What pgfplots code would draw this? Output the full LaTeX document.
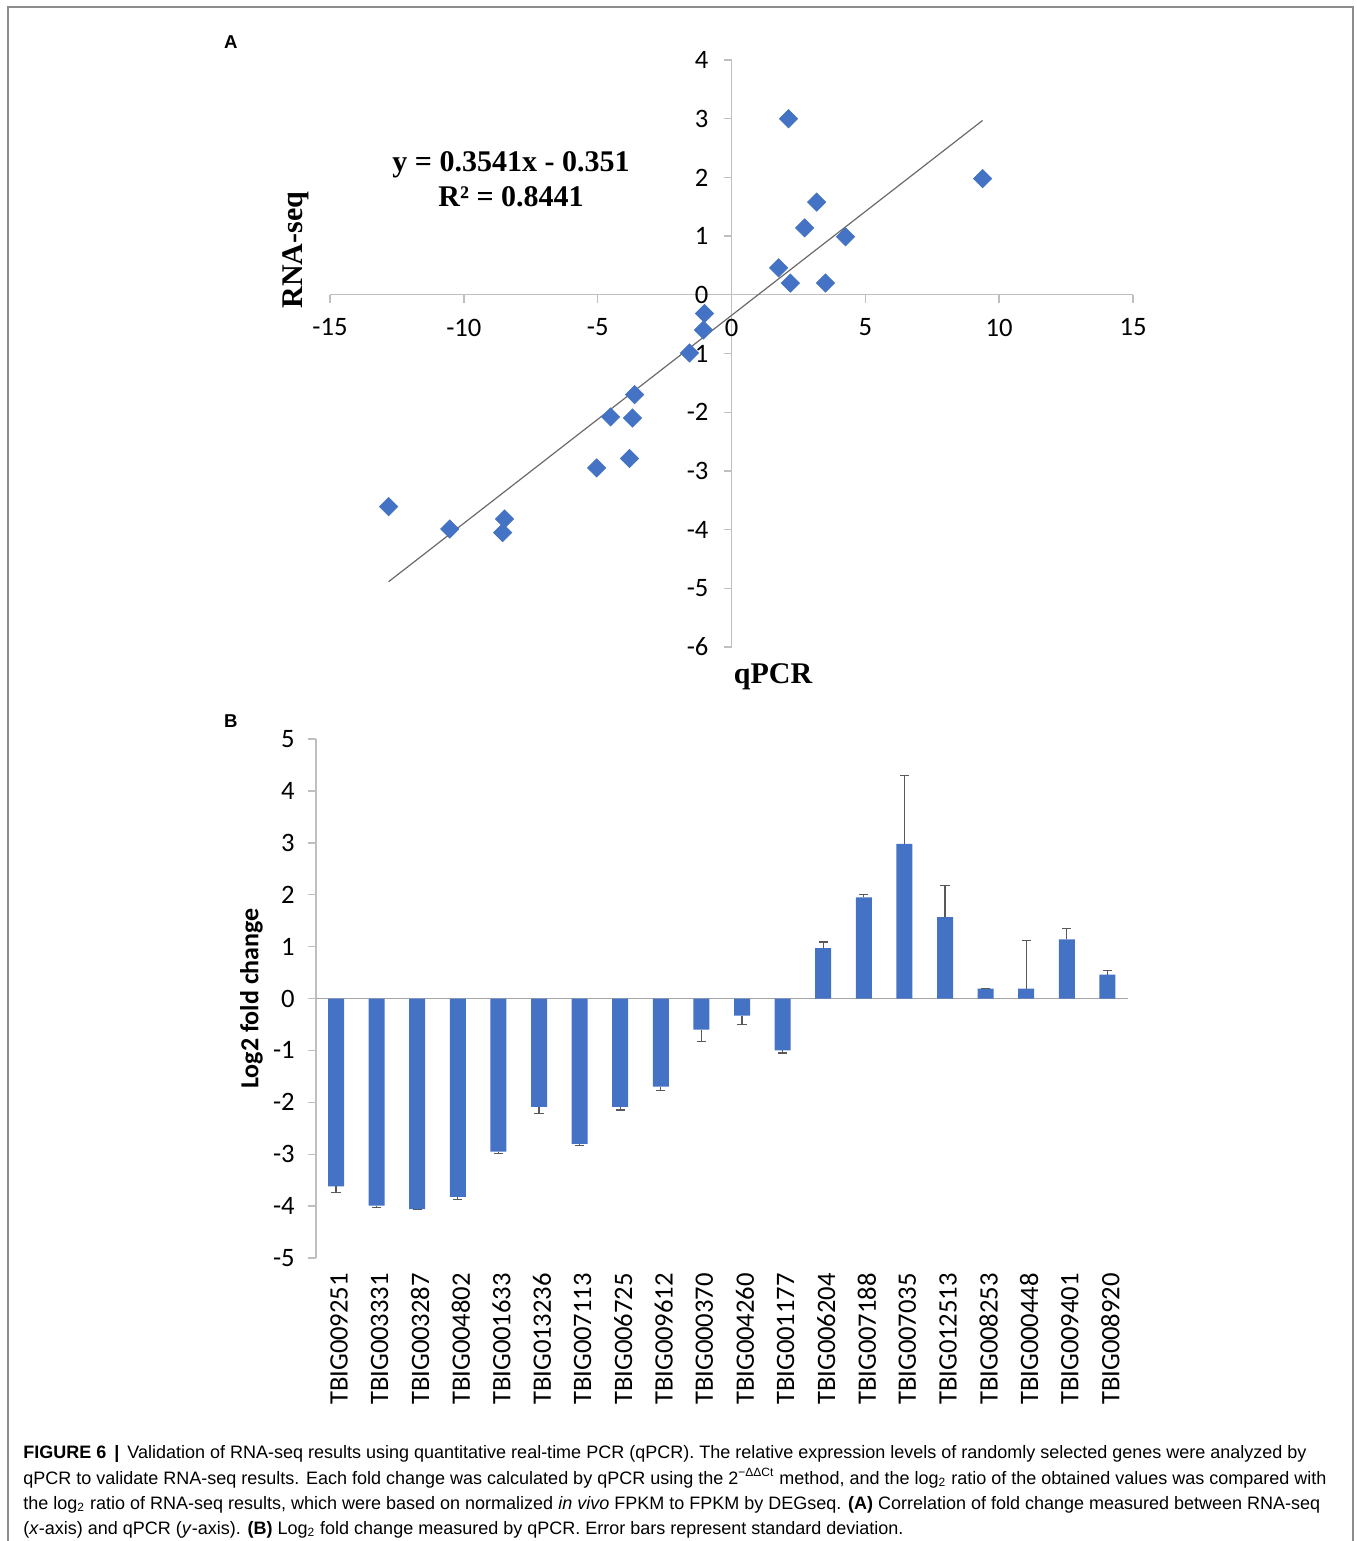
\documentclass[border=0pt]{standalone}
\usepackage{pgfplots}
\pgfplotsset{compat=1.18}
\usepackage{pgfplotstable}
\usepackage{fontspec}
\setmainfont{Liberation Sans}
\newfontfamily\carlito{Carlito}
\newfontfamily\timesf{Liberation Serif}
\definecolor{barblue}{HTML}{4472C4}
\definecolor{axgray}{HTML}{BFBFBF}
\definecolor{zgray}{HTML}{A6A6A6}
\definecolor{ebgray}{HTML}{595959}
\definecolor{trendgray}{HTML}{6A6A6A}
\definecolor{framegray}{HTML}{8C8C8C}

% Panel A: scatter (horizontal, vertical)
\pgfplotstableread{
x y
2.13 3.00
9.38 1.98
3.18 1.58
2.73 1.14
4.26 0.99
1.76 0.46
2.20 0.20
3.51 0.20
-1.01 -0.32
-1.05 -0.60
-1.57 -0.99
-3.62 -1.70
-4.52 -2.08
-3.70 -2.10
-3.81 -2.79
-5.04 -2.95
-12.81 -3.61
-10.53 -3.99
-8.48 -3.82
-8.55 -4.05
}\scatterdata

% Panel B: negative bars (error downwards)
\pgfplotstableread{
x y e
0 -3.62 0.11
1 -3.99 0.03
2 -4.06 0.01
3 -3.82 0.05
4 -2.95 0.03
5 -2.09 0.12
6 -2.80 0.03
7 -2.09 0.06
8 -1.70 0.08
9 -0.60 0.23
10 -0.33 0.17
11 -1.00 0.05
}\negbars

% Panel B: positive bars (error upwards)
\pgfplotstableread{
x y e
12 0.97 0.12
13 1.95 0.06
14 2.98 1.32
15 1.57 0.60
16 0.19 0.01
17 0.19 0.92
18 1.14 0.21
19 0.46 0.08
}\posbars

\begin{document}
\begin{tikzpicture}[x=0.5pt,y=-0.5pt]
\path[use as bounding box] (0,0) rectangle (1356,1541);
\draw[framegray, line width=0.8pt] (8,1541) -- (8,7) -- (1353,7) -- (1353,1541);

% ---------- Panel A ----------
\node[anchor=base west, font=\bfseries\fontsize{9.3}{9.3}\selectfont] at (217,49) {A};
\begin{axis}[
  at={(165pt,-323.5pt)}, anchor=south west,
  scale only axis, width=401.5pt, height=293.5pt,
  xmin=-15, xmax=15, ymin=-6, ymax=4,
  axis lines=middle,
  axis line style={axgray, line width=0.7pt, -},
  xtick={-15,-10,-5,0,5,10,15},
  ytick={-6,-5,-4,-3,-2,-1,0,1,2,3,4},
  hide obscured x ticks=false, hide obscured y ticks=false,
  tick align=outside,
  major tick length=4pt,
  tick style={axgray, line width=0.7pt},
  tick label style={font=\carlito\fontsize{13.3}{13.3}\selectfont},
  xticklabel style={yshift=-4.5pt},
  yticklabel style={xshift=-4pt},
  /pgf/number format/assume math mode=true,
  clip=false,
]
\addplot[trendgray, line width=0.6pt] coordinates {(-12.81,-4.887) (9.38,2.970)};
\addplot[only marks, mark=square*, mark size=3.2pt,
  mark options={rotate=45, fill=barblue, draw=barblue}] table {\scatterdata};
\end{axis}
\node[font=\timesf\bfseries\fontsize{15}{15}\selectfont, anchor=base] at (511,171) {y = 0.3541x - 0.351};
\node[font=\timesf\bfseries\fontsize{15}{15}\selectfont, anchor=base] at (511,206) {R² = 0.8441};
\node[font=\timesf\bfseries\fontsize{15}{15}\selectfont, rotate=90] at (296,250) {RNA-seq};
\node[font=\timesf\bfseries\fontsize{15}{15}\selectfont] at (773,677) {qPCR};

% ---------- Panel B ----------
\node[anchor=base west, font=\bfseries\fontsize{9.3}{9.3}\selectfont] at (217,727) {B};
\begin{axis}[
  at={(157.85pt,-629pt)}, anchor=south west,
  scale only axis, width=406pt, height=259.5pt,
  xmin=-0.5, xmax=19.5, ymin=-5, ymax=5,
  ybar, bar width=8pt,
  axis y line=left, axis x line*=bottom,
  x axis line style={draw=none},
  y axis line style={axgray, line width=1pt, -},
  ytick={-5,-4,-3,-2,-1,0,1,2,3,4,5},
  xtick={0,...,19},
  xticklabels={TBIG009251,TBIG003331,TBIG003287,TBIG004802,TBIG001633,TBIG013236,TBIG007113,TBIG006725,TBIG009612,TBIG000370,TBIG004260,TBIG001177,TBIG006204,TBIG007188,TBIG007035,TBIG012513,TBIG008253,TBIG000448,TBIG009401,TBIG008920},
  xticklabel style={rotate=90, anchor=east, yshift=-1.5pt},
  xtick style={draw=none},
  ytick style={axgray, line width=0.7pt},
  tick align=outside,
  major tick length=4pt,
  tick label style={font=\carlito\fontsize{13.3}{13.3}\selectfont},
  yticklabel style={xshift=-3pt},
  /pgf/number format/assume math mode=true,
  extra y ticks={0}, extra y tick labels={},
  extra y tick style={grid=major, major grid style={zgray, line width=0.8pt}, tick style={draw=none}},
  ylabel={Log2 fold change},
  ylabel style={font=\carlito\bfseries\fontsize{13}{13}\selectfont, at={(axis description cs:-0.079,0.5)}, anchor=center},
  clip=false,
]
\addplot[fill=barblue, draw=none, bar shift=0pt,
  error bars/.cd, y dir=minus, y explicit,
  error bar style={ebgray, line width=0.6pt},
  error mark options={ebgray, rotate=90, mark size=2.3pt, line width=0.6pt}]
  table[x=x, y=y, y error=e] {\negbars};
\addplot[fill=barblue, draw=none, bar shift=0pt,
  error bars/.cd, y dir=plus, y explicit,
  error bar style={ebgray, line width=0.6pt},
  error mark options={ebgray, rotate=90, mark size=2.3pt, line width=0.6pt}]
  table[x=x, y=y, y error=e] {\posbars};
\end{axis}

% ---------- Caption ----------
\begin{scope}[every node/.style={anchor=base west, inner sep=0pt, font=\fontsize{9.0}{10}\selectfont}]
\node at (23,1458) {\textbf{FIGURE 6 \,|}\, Validation of RNA-seq results using quantitative real-time PCR (qPCR). The relative expression levels of randomly selected genes were analyzed by};
\node at (23,1484) {qPCR to validate RNA-seq results. Each fold change was calculated by qPCR using the 2\textsuperscript{−ΔΔCt} method, and the log\textsubscript{2} ratio of the obtained values was compared with};
\node at (23,1509) {the log\textsubscript{2} ratio of RNA-seq results, which were based on normalized \textit{in vivo} FPKM to FPKM by DEGseq. \textbf{(A)} Correlation of fold change measured between RNA-seq};
\node at (23,1534) {(\textit{x}-axis) and qPCR (\textit{y}-axis). \textbf{(B)} Log\textsubscript{2} fold change measured by qPCR. Error bars represent standard deviation.};
\end{scope}
\end{tikzpicture}
\end{document}
